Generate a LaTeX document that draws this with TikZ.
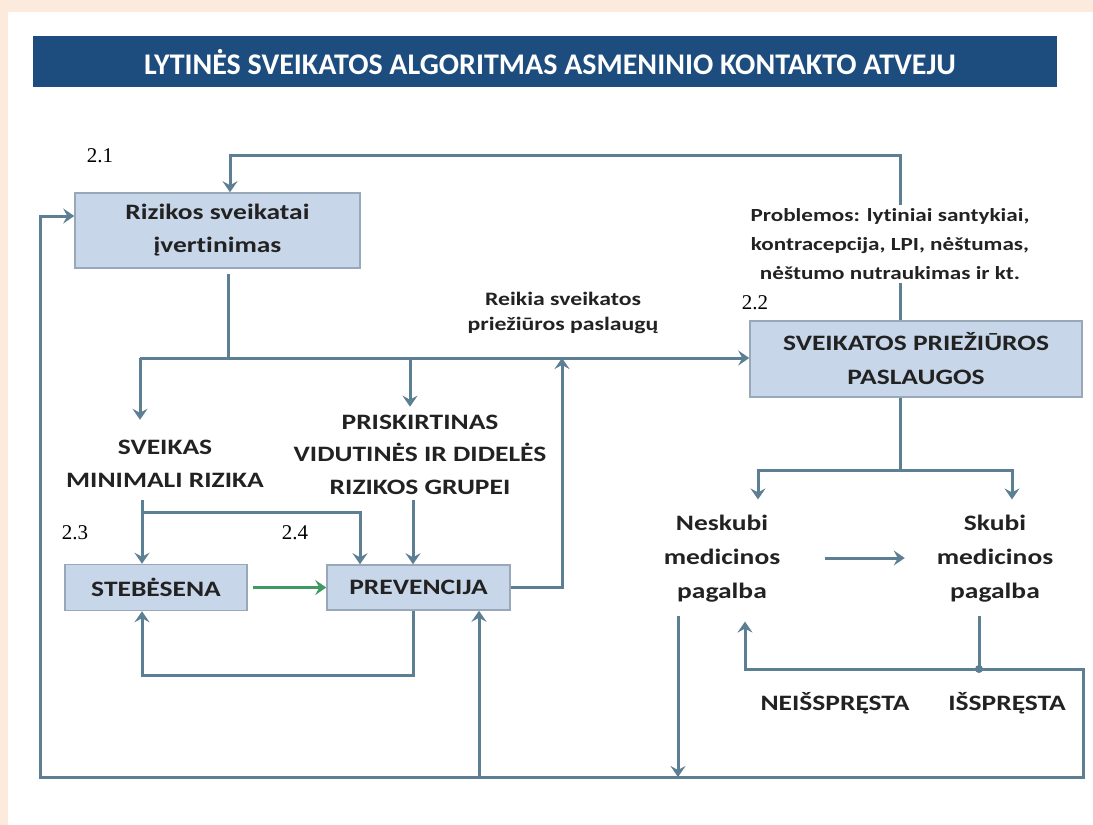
\documentclass[tikz,border=0pt]{standalone}
\usepackage{fontspec}
\setmainfont[Ligatures=NoCommon]{Carlito}
\newfontfamily\widef[FakeStretch=1.25,Ligatures=NoCommon]{Carlito}
\newfontfamily\tnr{Liberation Serif}
\usetikzlibrary{arrows.meta}
\definecolor{peach}{HTML}{FCEBDD}
\definecolor{titlebg}{HTML}{1D4C7E}
\definecolor{boxfill}{HTML}{C8D6EA}
\definecolor{boxdraw}{HTML}{98A8B8}
\definecolor{linec}{HTML}{5C7F93}
\definecolor{greenc}{HTML}{3F9A62}
\definecolor{txt}{HTML}{222222}
\begin{document}
\begin{tikzpicture}[x=1pt,y=-1pt,
  conn/.style={draw=linec, line width=3pt},
  arr/.style={conn, -{Stealth[length=11pt,width=15pt,inset=4pt]}},
  garr/.style={draw=greenc, line width=3pt, -{Stealth[length=11pt,width=15pt,inset=4pt]}},
  box/.style={draw=boxdraw, line width=1.5pt, fill=boxfill, inner sep=0pt, align=center, text=txt},
  lbl/.style={font=\tnr\fontsize{21}{21}\selectfont, inner sep=0pt},
  tnode/.style={align=center, inner sep=0pt, outer sep=0pt, text=txt},
]
\useasboundingbox (0,0) rectangle (1093,825);
\fill[peach] (0,0) rectangle (1093,825);
\fill[white] (8,12) rectangle (1093,825);
% title
\fill[titlebg] (33,36) rectangle (1057,87);
\node[text=white, font=\fontsize{30}{30}\selectfont\bfseries, inner sep=0pt] (title) at (550,62) {LYTINĖS SVEIKATOS ALGORITMAS ASMENINIO KONTAKTO ATVEJU};
% boxes
\node[box, minimum width=285pt, minimum height=75pt, font=\widef\fontsize{22}{33}\selectfont\bfseries] (r21) at (217.5,230.5) {Rizikos sveikatai\\įvertinimas};
\node[box, minimum width=332pt, minimum height=76pt, font=\widef\fontsize{22}{34}\selectfont\bfseries] (r22) at (916,359) {SVEIKATOS PRIEŽIŪROS\\PASLAUGOS};
\node[box, minimum width=182pt, minimum height=46pt, font=\widef\fontsize{22}{22}\selectfont\bfseries] (steb) at (156,587.5) {STEBĖSENA};
\node[box, minimum width=183pt, minimum height=45pt, font=\widef\fontsize{22}{22}\selectfont\bfseries] (prev) at (418.5,587.5) {PREVENCIJA};
% labels
\node[lbl] (l21) at (100,156) {2.1};
\node[lbl] (l22) at (755,303) {2.2};
\node[lbl] (l23) at (75,533) {2.3};
\node[lbl] (l24) at (295,533) {2.4};
% text nodes
\node[tnode, font=\widef\fontsize{22}{33}\selectfont\bfseries] (sveik) at (165,463.5) {SVEIKAS\\MINIMALI RIZIKA};
\node[tnode, font=\widef\fontsize{22}{32.5}\selectfont\bfseries] (prisk) at (420,454.5) {PRISKIRTINAS\\VIDUTINĖS IR DIDELĖS\\RIZIKOS GRUPEI};
\node[tnode, font=\widef\fontsize{19}{25}\selectfont\bfseries] (reik) at (563,313) {Reikia sveikatos\\priežiūros paslaugų};
\node[tnode, font=\widef\fontsize{22}{34}\selectfont\bfseries] (nesk) at (722,559) {Neskubi\\medicinos\\pagalba};
\node[tnode, font=\widef\fontsize{22}{34}\selectfont\bfseries] (skubi) at (995,559) {Skubi\\medicinos\\pagalba};
\node[tnode, font=\widef\fontsize{22}{22}\selectfont\bfseries] (neis) at (835,703) {NEIŠSPRĘSTA};
\node[tnode, font=\widef\fontsize{22}{22}\selectfont\bfseries] (isspr) at (1007,703) {IŠSPRĘSTA};
% coordinates
\coordinate (t1) at (900,155);
\coordinate (t2) at (230,155);
\coordinate (h0) at (140,358);
\coordinate (h1) at (228,358);
\coordinate (h2) at (410,358);
\coordinate (h3) at (562,358);
\coordinate (s1) at (142,512);
\coordinate (s2) at (360,512);
\coordinate (p1) at (413,675);
\coordinate (p2) at (142,675);
\coordinate (k1) at (562,587.5);
\coordinate (b0) at (900,470);
\coordinate (b1) at (758,470);
\coordinate (b2) at (1012,470);
\coordinate (j) at (979,669);
\coordinate (n1) at (745,669);
\coordinate (c1) at (1083,669);
\coordinate (c2) at (1083,777);
\coordinate (c3) at (40,777);
\coordinate (c4) at (40,216);
\coordinate (q1) at (479,777);
\coordinate (d2) at (678,777);
% connectors
\draw[arr] (r22.north -| t1) -- (t1) -- (t2) -- (r21.north -| t2);
\node[tnode, fill=white, inner sep=3pt, font=\widef\fontsize{18.5}{29}\selectfont\bfseries] (probl) at (890,244) {Problemos: lytiniai santykiai,\\kontracepcija, LPI, nėštumas,\\nėštumo nutraukimas ir kt.};
\draw[conn] ([yshift=-5pt]r21.south -| h1) -- (h1);
\draw[arr] (h0) -- (r22.west |- h0);
\draw[arr] (h0) -- ([yshift=20pt]sveik.north -| h0);
\draw[arr] (h2) -- ([yshift=8pt]prisk.north -| h2);
\draw[arr] ([yshift=-13pt]sveik.south -| s1) -- (steb.north -| s1);
\draw[arr] (s1) -- (s2) -- (prev.north -| s2);
\draw[arr] ([yshift=-6pt]prisk.south -| p1) -- (prev.north -| p1);
\draw[garr] ([xshift=5pt]steb.east) -- (prev.west);
\draw[arr] (prev.south -| p1) -- (p1) -- (p2) -- (steb.south -| p2);
\draw[arr] (prev.east) -- (k1) -- (h3);
\draw[conn] (r22.south -| b0) -- (b0);
\draw[arr] (b0) -- (b1) -- ([yshift=16pt]nesk.north -| b1);
\draw[arr] (b0) -- (b2) -- ([yshift=16pt]skubi.north -| b2);
\draw[arr] ([xshift=45pt]nesk.east |- 0,558) -- ([xshift=-32pt]skubi.west |- 0,558);
\draw[conn] ([yshift=-13pt]skubi.south -| j) -- (j);
\fill[linec] (j) circle (4pt);
\draw[arr] (j) -- (n1) -- ([yshift=-19pt]nesk.south -| n1);
\draw[arr] (j) -- (c1) -- (c2) -- (c3) -- (c4) -- (r21.west |- c4);
\draw[arr] (q1) -- (prev.south -| q1);
\draw[arr] ([yshift=-13pt]nesk.south -| d2) -- (d2);
\end{tikzpicture}
\end{document}
